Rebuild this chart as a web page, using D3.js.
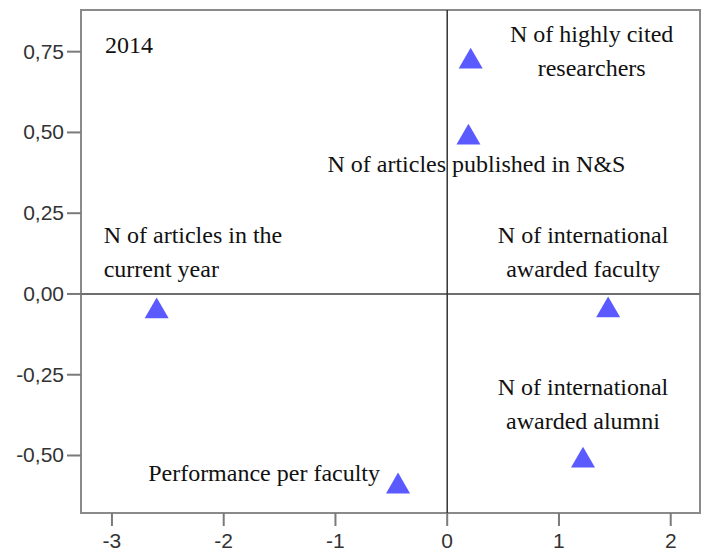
<!DOCTYPE html>
<html>
<head>
<meta charset="utf-8">
<script src="https://cdn.jsdelivr.net/npm/d3@7"></script>
</head>
<body style="margin:0">
<script>
// variables plotted on the two dimensions (2014)
const names = [
  ["N of highly cited", "researchers"],
  ["N of articles published in N&S"],
  ["N of articles in the", "current year"],
  ["N of international", "awarded faculty"],
  ["N of international", "awarded alumni"],
  ["Performance per faculty"]
];
const dim1 = [0.21, 0.19, -2.60, 1.44, 1.215, -0.44];
const dim2 = [0.73, 0.495, -0.043, -0.04, -0.505, -0.585];
const xTicks = [-3, -2, -1, 0, 1, 2];
const yTicks = [-0.5, -0.25, 0, 0.25, 0.5, 0.75];
const yearLabel = "2014";

// where each label sits relative to its marker
const labelPlace = [
  { dx: 121, dy: -16, anchor: "middle" },
  { dx: 8, dy: 38, anchor: "middle" },
  { dx: -53, dy: -65, anchor: "start" },
  { dx: -25, dy: -64, anchor: "middle" },
  { dx: 0, dy: -62, anchor: "middle" },
  { dx: -18, dy: -2, anchor: "end" }
];

const W = 705, H = 552;
const margin = { top: 10, right: 5, bottom: 39, left: 81 };
const width = W - margin.left - margin.right,
      height = H - margin.top - margin.bottom;

const svg = d3.select("body").append("svg")
  .attr("width", W).attr("height", H)
  .style("font-family", "Times New Roman");

const x = d3.scaleLinear().domain([-3.277, 2.262]).range([margin.left, W - margin.right]);
const y = d3.scaleLinear().domain([-0.678, 0.879]).range([H - margin.bottom, margin.top]);

const fmt = d => d3.format(".2f")(d).replace(".", ",").replace("−", "-");

// frame
svg.append("rect")
  .attr("x", margin.left).attr("y", margin.top).attr("width", width).attr("height", height)
  .attr("fill", "none").attr("stroke", "#8a8a8a").attr("stroke-width", 2);

// reference lines at 0
svg.append("line")
  .attr("x1", margin.left).attr("x2", W - margin.right).attr("y1", y(0)).attr("y2", y(0))
  .attr("stroke", "#6e6e6e").attr("stroke-width", 2);
svg.append("line")
  .attr("x1", x(0)).attr("x2", x(0)).attr("y1", margin.top).attr("y2", H - margin.bottom)
  .attr("stroke", "#333").attr("stroke-width", 1.5);

// markers
const tri = d3.symbol().type(d3.symbolTriangle).size(250);
const pts = names.map((n, i) => ({ name: n, x: dim1[i], y: dim2[i], place: labelPlace[i] }));

svg.selectAll("path.pt")
  .data(pts).enter().append("path")
  .attr("d", tri)
  .attr("transform", d => "translate(" + x(d.x) + "," + (y(d.y) + 3.5) + ")")
  .attr("fill", "#5a5aff");

// serif labels first
const labels = svg.append("g");
labels.append("text")
  .attr("x", margin.left + 24).attr("y", margin.top + 43)
  .attr("font-size", 24).attr("fill", "#111")
  .style("font-family", "Times New Roman")
  .text(yearLabel);

pts.forEach(d => {
  d.name.forEach((line, k) => {
    labels.append("text")
      .attr("x", x(d.x) + d.place.dx)
      .attr("y", y(d.y) + d.place.dy + k * 34)
      .attr("text-anchor", d.place.anchor)
      .attr("font-size", 24).attr("fill", "#111")
      .style("font-family", "Times New Roman")
      .text(line);
  });
});

// ticks
svg.selectAll("line.xt").data(xTicks).enter().append("line")
  .attr("x1", d => x(d)).attr("x2", d => x(d))
  .attr("y1", H - margin.bottom).attr("y2", H - margin.bottom + 13)
  .attr("stroke", "#7a7a7a").attr("stroke-width", 2);
svg.selectAll("line.yt").data(yTicks).enter().append("line")
  .attr("x1", margin.left - 14).attr("x2", margin.left)
  .attr("y1", d => y(d)).attr("y2", d => y(d))
  .attr("stroke", "#7a7a7a").attr("stroke-width", 2);

// tick labels
svg.selectAll("text.xl").data(xTicks).enter().append("text")
  .attr("x", d => x(d)).attr("y", H - margin.bottom + 35)
  .attr("text-anchor", "middle")
  .attr("font-size", 21).attr("fill", "#333")
  .style("font-family", "Arial")
  .text(d => d3.format("d")(d).replace("−", "-"));
svg.selectAll("text.yl").data(yTicks).enter().append("text")
  .attr("x", margin.left - 17).attr("y", d => y(d) + 7)
  .attr("text-anchor", "end")
  .attr("font-size", 21).attr("fill", "#333")
  .style("font-family", "Arial")
  .text(fmt);
</script>
</body>
</html>
